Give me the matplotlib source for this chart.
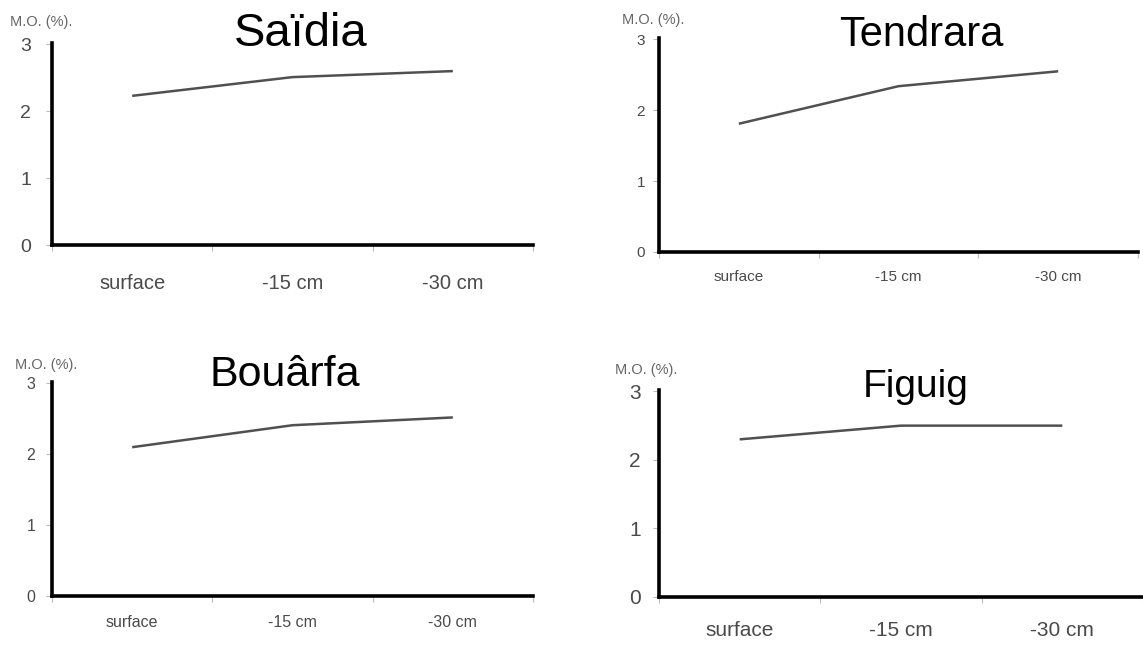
import matplotlib
matplotlib.use("Agg")
import matplotlib.pyplot as plt
from matplotlib.ticker import FixedLocator, NullFormatter, FixedFormatter

plt.rcParams['font.family'] = ['Liberation Sans', 'DejaVu Sans']

W, H = 1143, 645

depths = ["surface", "-15 cm", "-30 cm"]
yticks = [0, 1, 2, 3]
ylabel = "M.O. (%)."

sites = ["Saïdia", "Tendrara", "Bouârfa", "Figuig"]
saidia = [2.23, 2.51, 2.60]
tendrara = [1.81, 2.34, 2.55]
bouarfa = [2.10, 2.41, 2.52]
figuig = [2.30, 2.50, 2.50]
series = [saidia, tendrara, bouarfa, figuig]

# layout in pixels: left, right, top(y=3), bottom(y=0)
rects = [(52, 533, 43, 245), (659, 1138, 38, 252), (52, 533, 382, 596), (659, 1143, 390, 597)]
title_pos = [(301, 46, 34), (921, 46, 30), (285, 386, 31), (916, 397, 28)]
mo_pos = [(10, 22), (622, 20), (15, 365), (615, 370)]
xlab_size = [14.5, 11, 11.5, 15]
xlab_pad = [21, 13, 14, 17]
ylab_size = [14, 11, 11.5, 15]
ylab_pad = [11, 6, 8, 9]

fig = plt.figure(figsize=(W / 100, H / 100), dpi=100)
for i, (vals, site) in enumerate(zip(series, sites)):
    l, r, t, b = rects[i]
    ax = fig.add_axes([l / W, 1 - b / H, (r - l) / W, (b - t) / H])
    xc = [k + 0.5 for k in range(len(depths))]
    ax.plot(xc, vals, color='#505050', lw=1.8, solid_capstyle='butt')
    ax.set_xlim(0, len(depths))
    ax.set_ylim(0, 3.02)
    for s in ['top', 'right']:
        ax.spines[s].set_visible(False)
    for s in ['left', 'bottom']:
        ax.spines[s].set_linewidth(2.6)
        ax.spines[s].set_color('black')
    ax.xaxis.set_major_locator(FixedLocator(list(range(len(depths) + 1))))
    ax.xaxis.set_major_formatter(NullFormatter())
    ax.xaxis.set_minor_locator(FixedLocator(xc))
    ax.xaxis.set_minor_formatter(FixedFormatter(depths))
    ax.tick_params(axis='x', which='major', length=4, width=0.8, color='#bbbbbb', direction='out')
    ax.tick_params(axis='x', which='minor', length=0, pad=xlab_pad[i],
                   labelsize=xlab_size[i], labelcolor='#4a4a4a')
    ax.set_yticks(yticks)
    ax.set_yticklabels([str(v) for v in yticks])
    ax.tick_params(axis='y', length=4, width=0.8, color='#bbbbbb', direction='out',
                   pad=ylab_pad[i], labelsize=ylab_size[i], labelcolor='#4a4a4a')
    tx, ty, ts = title_pos[i]
    fig.text(tx / W, 1 - ty / H, site, fontsize=ts, ha='center', va='baseline', color='black')
    mx, my = mo_pos[i]
    fig.text(mx / W, 1 - my / H, ylabel, fontsize=10.5, ha='left', va='center', color='#666666')

fig.savefig("out.png", dpi=100)
